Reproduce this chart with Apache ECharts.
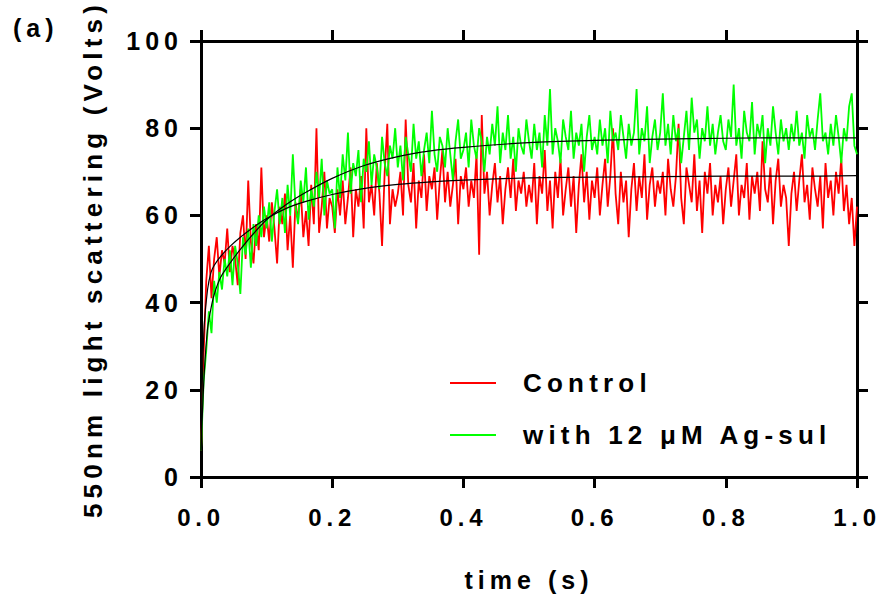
<!DOCTYPE html>
<html>
<head>
<meta charset="utf-8">
<script src="https://cdn.jsdelivr.net/npm/echarts@6/dist/echarts.min.js"></script>
<style>
  html, body { margin: 0; padding: 0; background: #fff; }
  #chart { width: 880px; height: 599px; }
  #chart text { letter-spacing: 0.2em; }
</style>
</head>
<body>
<div id="chart"></div>
<script>
// ---- data ----
const xTicks = [0.0, 0.2, 0.4, 0.6, 0.8, 1.0];
const yTicks = [0, 20, 40, 60, 80, 100];
const timeStep = 0.004; // sampling interval of the traces (s)

const controlValues = [
  6, 28, 45, 53, 41, 50, 55, 46, 52, 49, 57, 47, 53, 50, 44, 56, 60, 50, 68, 54, 49, 58, 52, 71, 55,
  60, 54, 63, 57, 49, 62, 58, 65, 52, 60, 48, 63, 59, 66, 55, 61, 53, 67, 58, 80, 56, 62, 70, 57, 64,
  62, 56, 66, 60, 68, 58, 64, 71, 55, 66, 62, 69, 57, 80, 63, 67, 60, 72, 65, 53, 70, 81, 58, 66, 62,
  65, 70, 60, 82, 67, 63, 72, 57, 68, 64, 74, 61, 69, 66, 71, 59, 68, 75, 63, 70, 62, 67, 73, 58, 69,
  66, 71, 62, 68, 64, 74, 51, 83, 65, 70, 60, 67, 72, 63, 69, 58, 66, 71, 64, 73, 61, 68, 65, 70, 62,
  67, 63, 72, 58, 69, 65, 75, 61, 68, 57, 70, 64, 73, 60, 66, 71, 62, 69, 56, 67, 74, 63, 70, 59, 68,
  64, 71, 60, 67, 73, 62, 69, 80, 65, 58, 70, 63, 68, 55, 66, 72, 61, 69, 64, 74, 59, 67, 71, 62, 68,
  65, 70, 60, 73, 66, 62, 69, 81, 64, 58, 71, 67, 63, 74, 61, 68, 56, 70, 65, 72, 60, 67, 63, 69, 58,
  66, 71, 62, 68, 74, 60, 67, 64, 72, 59, 69, 65, 70, 61, 77, 66, 63, 71, 58, 68, 73, 62, 67, 64, 53,
  65, 70, 61, 68, 74, 63, 67, 59, 71, 66, 62, 69, 57, 72, 64, 68, 60, 70, 65, 73, 61, 67, 58, 64, 53, 62
];

const agSulValues = [
  6, 22, 29, 38, 33, 45, 40, 47, 43, 50, 46, 52, 44, 53, 49, 42, 55, 51, 57, 48, 58, 53, 60, 55, 62,
  57, 63, 54, 61, 66, 58, 64, 56, 67, 60, 74, 62, 58, 68, 63, 71, 59, 66, 62, 70, 64, 73, 60, 68, 65,
  66, 57, 71, 64, 74, 68, 79, 65, 72, 69, 75, 63, 73, 70, 77, 67, 74, 71, 66, 78, 72, 69, 76, 73, 80,
  71, 76, 68, 78, 74, 70, 81, 73, 77, 69, 75, 79, 72, 84, 74, 70, 78, 76, 71, 80, 74, 68, 77, 82, 73,
  75, 79, 71, 82, 76, 73, 80, 77, 70, 78, 74, 81, 76, 85, 72, 79, 75, 83, 73, 78, 70, 80, 76, 74, 82,
  77, 73, 81, 75, 79, 71, 83, 76, 89, 74, 80, 77, 72, 82, 78, 75, 84, 73, 79, 76, 81, 70, 78, 83, 75,
  78, 74, 82, 76, 80, 72, 84, 77, 79, 75, 83, 78, 73, 81, 76, 79, 89, 74, 80, 77, 85, 72, 78, 82, 75,
  79, 88, 76, 81, 74, 83, 77, 80, 72, 78, 84, 75, 87, 79, 82, 73, 80, 77, 85, 76, 81, 74, 79, 83, 77,
  75, 82, 78, 90, 76, 80, 73, 84, 79, 77, 86, 74, 81, 78, 83, 72, 80, 76, 85, 79, 74, 82, 77, 80, 75,
  81, 77, 84, 76, 79, 73, 83, 78, 80, 75, 82, 88, 77, 79, 74, 81, 76, 83, 78, 72, 80, 77, 85, 88, 76, 74
];

const fitTimes = [0, 0.002, 0.005, 0.01, 0.015, 0.02, 0.03, 0.045, 0.06, 0.08, 0.1, 0.13, 0.16, 0.2, 0.25, 0.3, 0.35, 0.4, 0.5, 0.6, 0.7, 0.8, 0.9, 1.0];
const controlFit = [6, 22, 35, 43, 46.8, 48.5, 50.6, 53, 55, 57.3, 59.3, 61.6, 63.2, 64.8, 66.2, 67.1, 67.7, 68.1, 68.6, 68.8, 68.9, 69, 69, 69.1];
const agSulFit = [6, 14, 24, 34, 38.5, 41.8, 45.8, 49.2, 52.2, 55.8, 59, 62.5, 65.3, 68.5, 71.5, 73.5, 74.8, 75.6, 76.7, 77.2, 77.5, 77.7, 77.8, 77.8];

const seriesNames = ['Control', 'with 12 \u03BCM Ag-sul'];

// ---- build ----
const toPairs = vals => vals.map((v, i) => [+(i * timeStep).toFixed(3), v]);
const fitPairs = vals => vals.map((v, i) => [fitTimes[i], v]);

const FONT = '"Liberation Sans", Arial, sans-serif';
const axisLine = { show: true, onZero: false, lineStyle: { color: '#000', width: 3 } };
const axisTick = { show: true, inside: false, length: 11, lineStyle: { color: '#000', width: 3 } };

const chart = echarts.init(document.getElementById('chart'), null, { renderer: 'svg' });
chart.setOption({
  animation: false,
  backgroundColor: '#fff',
  title: {
    text: '(a)', left: 8, top: 10,
    textStyle: { fontFamily: FONT, fontWeight: 'bold', fontSize: 25, color: '#000' }
  },
  grid: { left: 201, right: 23, top: 41, bottom: 122 },
  legend: {
    data: seriesNames,
    orient: 'vertical',
    left: 445, top: 363,
    itemWidth: 46, itemHeight: 2, itemGap: 22,
    icon: 'rect',
    textStyle: { fontFamily: FONT, fontWeight: 'bold', fontSize: 26, color: '#000', lineHeight: 30, padding: [0, 0, 0, 22] }
  },
  xAxis: [{
    type: 'value', min: 0, max: 1, interval: 0.2, position: 'bottom',
    name: 'time (s)', nameLocation: 'middle', nameGap: 90,
    nameTextStyle: { fontFamily: FONT, fontWeight: 'bold', fontSize: 25, color: '#000' },
    axisLine, axisTick, splitLine: { show: false },
    axisLabel: { margin: 28, fontFamily: FONT, fontWeight: 'bold', fontSize: 24, color: '#000',
      formatter: v => v.toFixed(1) }
  }, {
    type: 'value', min: 0, max: 1, interval: 0.2, position: 'top',
    axisLine, axisTick, splitLine: { show: false }, axisLabel: { show: false }
  }],
  yAxis: [{
    type: 'value', min: 0, max: 100, interval: 20, position: 'left',
    name: '550nm light scattering (Volts)', nameLocation: 'middle', nameGap: 95,
    nameTextStyle: { fontFamily: FONT, fontWeight: 'bold', fontSize: 26, color: '#000' },
    axisLine, axisTick, splitLine: { show: false },
    axisLabel: { margin: 18, fontFamily: FONT, fontWeight: 'bold', fontSize: 25, color: '#000' }
  }, {
    type: 'value', min: 0, max: 100, interval: 20, position: 'right',
    axisLine, axisTick, splitLine: { show: false }, axisLabel: { show: false }
  }],
  series: [
    { name: seriesNames[0], type: 'line', data: toPairs(controlValues), showSymbol: false,
      lineStyle: { color: '#ff0000', width: 1.8 }, itemStyle: { color: '#ff0000' }, z: 2 },
    { name: seriesNames[1], type: 'line', data: toPairs(agSulValues), showSymbol: false,
      lineStyle: { color: '#00ff00', width: 1.8 }, itemStyle: { color: '#00ff00' }, z: 3 },
    { name: 'Control fit', type: 'line', data: fitPairs(controlFit), showSymbol: false, smooth: 0.3,
      lineStyle: { color: '#000', width: 1.2 }, z: 4 },
    { name: 'Ag-sul fit', type: 'line', data: fitPairs(agSulFit), showSymbol: false, smooth: 0.3,
      lineStyle: { color: '#000', width: 1.2 }, z: 4 }
  ]
});
</script>
</body>
</html>
